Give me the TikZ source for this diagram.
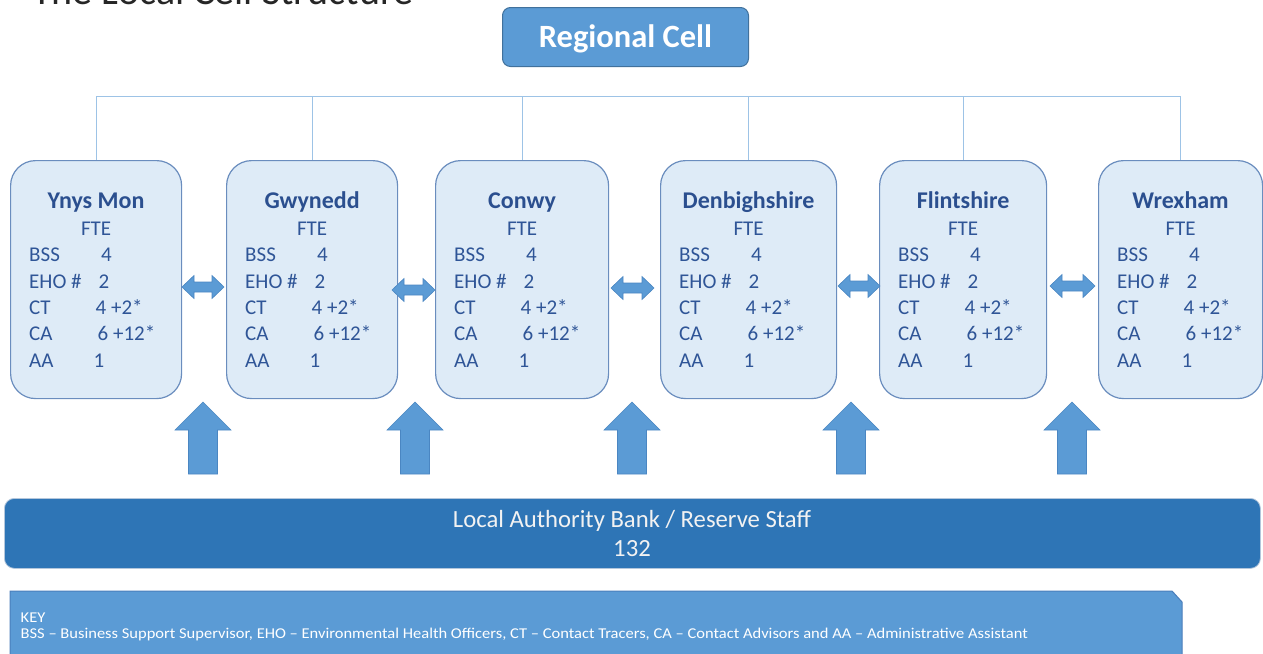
\documentclass[tikz,border=0pt]{standalone}
\usepackage{graphicx}
\usepackage{fontspec}
\setmainfont{Carlito}
\usetikzlibrary{calc}
\definecolor{cellfill}{HTML}{DEEBF7}
\definecolor{celldraw}{HTML}{6A8DBE}
\definecolor{celltext}{HTML}{2F5597}
\definecolor{headtext}{HTML}{2B4F8F}
\definecolor{midblue}{HTML}{5B9BD5}
\definecolor{regdraw}{HTML}{41719C}
\definecolor{arrdraw}{HTML}{4A86C2}
\definecolor{conncol}{HTML}{9DC3E6}
\definecolor{bankfill}{HTML}{2E75B6}
\definecolor{bankdraw}{HTML}{B4C7DC}
\definecolor{keydraw}{HTML}{4A7EBB}
\definecolor{titlecol}{HTML}{262626}
\definecolor{lighttext}{HTML}{F2F2F2}
\newcommand\dblblock[3]{%
  \draw[blockarrow] (#1,#3) -- (#1+12,#3-11.5) -- (#1+12,#3-5) -- (#2-12,#3-5) -- (#2-12,#3-11.5) -- (#2,#3)
    -- (#2-12,#3+11.5) -- (#2-12,#3+5) -- (#1+12,#3+5) -- (#1+12,#3+11.5) -- cycle;}
\newcommand\upblock[1]{%
  \draw[blockarrow] (#1,402) -- (#1+28,430) -- (#1+14.5,430) -- (#1+14.5,474) -- (#1-14.5,474) -- (#1-14.5,430) -- (#1-28,430) -- cycle;}
\newcommand\keystretch[1]{\scalebox{1.1}[1]{#1}}
\begin{document}
\begin{tikzpicture}[x=1pt,y=-1pt,
  cell/.style={draw=celldraw, line width=1.2pt, fill=cellfill, rounded corners=25pt, inner sep=0},
  head/.style={font=\fontsize{24}{28}\selectfont\bfseries, text=headtext, inner sep=0},
  body/.style={font=\fontsize{21}{25}\selectfont, text=celltext, inner sep=0},
  conn/.style={draw=conncol, line width=0.8pt},
  blockarrow/.style={fill=midblue, draw=arrdraw, line width=0.6pt, line join=miter},
  regbox/.style={draw=regdraw, line width=1pt, fill=midblue, rounded corners=8pt, inner sep=0},
  bankbox/.style={draw=bankdraw, line width=0.8pt, fill=bankfill, rounded corners=10pt, inner sep=0},
  keybox/.style={draw=keydraw, line width=1pt, fill=midblue},
  banktext/.style={font=\fontsize{24.7}{28}\selectfont, text=lighttext, inner sep=0},
  keytext/.style={font=\fontsize{15}{18}\selectfont, text=white, inner sep=0}]
\useasboundingbox (0,0) rectangle (1263,653);
\clip (0,0) rectangle (1263,653);
% title (cut off at top, as in the reference)
\node[anchor=base west, font=\fontsize{40}{48}\selectfont, text=titlecol, inner sep=0] (title) at (32,5) {The Local Cell Structure};
% regional cell
\node[regbox, minimum width=246, minimum height=59, anchor=north west] (reg) at (502,7) {};
\node[anchor=base, font=\fontsize{32.5}{38}\selectfont\bfseries, text=white, inner sep=0] (regt) at ($(reg.north)+(0,40)$) {Regional Cell};
\coordinate (hline) at (0,96);
% local cells
\foreach \n/\l/\w/\t in {b1/10/171/Ynys Mon, b2/226/171/Gwynedd, b3/435/173/Conwy, b4/660/176/Denbighshire, b5/879/167/Flintshire, b6/1098/164/Wrexham}{
  \node[cell, minimum width=\w, minimum height=238, anchor=north west] (\n) at (\l,160) {};
  \node[head, anchor=base] (\n-h) at ($(\n.north)+(0,48)$) {\t};
  \node[body, anchor=base] (\n-f) at ($(\n.north)+(0,75)$) {FTE};
  \foreach \k/\lab/\val/\vx/\dy in {r1/BSS/4/91/101, r2/EHO \#/2/88.5/128, r3/CT/4 +2*/85.5/154, r4/CA/6 +12*/87.5/180, r5/AA/1/83.5/207}{
    \node[body, anchor=base west] (\n-\k l) at ($(\n.north west)+(19,\dy)$) {\lab};
    \node[body, anchor=base west] (\n-\k v) at ($(\n.north west)+(\vx,\dy)$) {\val};
  }
}
% tree connectors
\draw[conn] ($(reg.south)+(7,0)$) -- ($(reg.south)+(7,0)$ |- hline);
\draw[conn] (b1.north) -- (b1.north |- hline) -- (b6.north |- hline) -- (b6.north);
\foreach \n in {b2,b3,b4,b5}{
  \draw[conn] (\n.north |- hline) -- (\n.north);
}
% double arrows between cells
\dblblock{182}{224}{287}
\dblblock{392}{435}{290}
\dblblock{611}{654}{288}
\dblblock{838}{880}{286}
\dblblock{1050}{1095}{286}
% up arrows
\upblock{203}
\upblock{415}
\upblock{632}
\upblock{851}
\upblock{1072}
% bank
\node[bankbox, minimum width=1256, minimum height=70, anchor=north west] (bank) at (4,498) {};
\node[banktext, anchor=base] (bank1) at (632,527) {Local Authority Bank / Reserve Staff};
\node[banktext, anchor=base] (bank2) at (632,556) {132};
% key
\draw[keybox] (10,591) -- (1172,591) -- (1182,602) -- (1182,665) -- (10,665) -- cycle;
\node[keytext, anchor=base west] (key1) at (20.5,622) {\keystretch{KEY}};
\node[keytext, anchor=base west] (key2) at (20.5,638.5) {\keystretch{BSS – Business Support Supervisor, EHO – Environmental Health Officers, CT – Contact Tracers, CA – Contact Advisors and AA – Administrative Assistant}};
\end{tikzpicture}
\end{document}
